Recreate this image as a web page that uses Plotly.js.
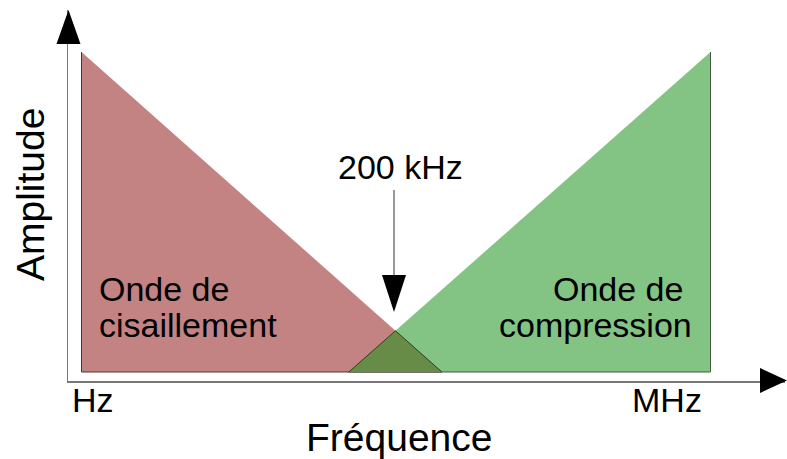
<!DOCTYPE html>
<html>
<head>
<meta charset="utf-8">
<script src="https://cdn.plot.ly/plotly-3.0.1.min.js"></script>
<style>html,body{margin:0;padding:0;background:#fff;}#chart{width:787px;height:459px;}</style>
</head>
<body>
<div id="chart"></div>
<script>
// ---- data (frequency position 0 = Hz, 1 = MHz ; amplitude 0..1) ----
const freqLabels = ['Hz', 'MHz'];
const shearX = [0, 0, 0.573];
const shearY = [1, 0, 0];
const compX = [0.425, 1, 1];
const compY = [0, 0, 1];
const shearLabel = ['Onde de', 'cisaillement'];
const compLabel = ['Onde de', 'compression'];
const crossLabel = '200 kHz';
const xTitle = 'Fréquence';
const yTitle = 'Amplitude';

// overlap region = intersection of the two triangles
function lineY(x, x0, y0, x1, y1) { return y0 + (y1 - y0) * (x - x0) / (x1 - x0); }
// shear hypotenuse: (shearX[0],shearY[0]) -> (shearX[2],shearY[2]); comp hypotenuse: (compX[0],compY[0]) -> (compX[2],compY[2])
const sA = (shearY[2] - shearY[0]) / (shearX[2] - shearX[0]);
const cA = (compY[2] - compY[0]) / (compX[2] - compX[0]);
const xc = (compY[0] - cA * compX[0] - shearY[0] + sA * shearX[0]) / (sA - cA);
const yc = lineY(xc, shearX[0], shearY[0], shearX[2], shearY[2]);
const overlapX = [compX[0], xc, shearX[2]];
const overlapY = [0, yc, 0];

// ---- layout geometry ----
const W = 787, H = 459;
const ML = 68, MR = 2, MT = 10, MB = 78;
const PW = W - ML - MR, PH = H - MT - MB;
const X0 = 81.5, X1 = 710.5, Y0 = 372, Y1 = 52; // pixel of data 0/1
const dx = px => (px - X0) / (X1 - X0);
const dy = py => (Y0 - py) / (Y0 - Y1);
const xp = px => (px - ML) / PW;
const yp = py => (MT + PH - py) / PH;
const P = (x, y) => xp(x).toFixed(5) + ',' + yp(y).toFixed(5);

const font = 'Liberation Sans, Arial, sans-serif';

const traces = [
  {x: compX, y: compY, type: 'scatter', mode: 'lines', fill: 'toself',
   fillcolor: '#83c383', line: {color: '#3f5e3f', width: 1}, hoverinfo: 'skip'},
  {x: shearX, y: shearY, type: 'scatter', mode: 'lines', fill: 'toself',
   fillcolor: '#c48383', line: {color: '#4a3434', width: 1}, hoverinfo: 'skip'},
  {x: overlapX, y: overlapY, type: 'scatter', mode: 'lines', fill: 'toself',
   fillcolor: '#678c47', line: {color: '#2f3f22', width: 1}, hoverinfo: 'skip'}
];

function ann(text, x, y, size, xanchor, extra) {
  return Object.assign({text: text, xref: 'paper', yref: 'paper', x: xp(x), y: yp(y),
    xanchor: xanchor, yanchor: 'middle', showarrow: false,
    font: {family: font, size: size, color: '#000'}}, extra || {});
}

const annotations = [
  ann(yTitle, 30, 195, 39, 'center', {textangle: -90}),
  ann(xTitle, 399, 437, 39, 'center'),
  ann(freqLabels[0], 70, 400, 34, 'left'),
  ann(freqLabels[1], 704, 400, 34, 'right'),
  ann(crossLabel, 400, 167, 34, 'center'),
  ann(shearLabel[0], 97, 289, 34, 'left'),
  ann(shearLabel[1], 97, 325, 34, 'left'),
  ann(compLabel[0], 685, 289, 34, 'right'),
  ann(compLabel[1], 694, 325, 34, 'right')
];

const shapes = [
  // y-axis arrowhead
  {type: 'path', xref: 'paper', yref: 'paper', path: 'M' + P(56.5, 44) + 'L' + P(80.5, 44) + 'L' + P(68.5, 10) + 'Z',
   fillcolor: '#000', line: {width: 0}},
  // x-axis arrowhead
  {type: 'path', xref: 'paper', yref: 'paper', path: 'M' + P(760, 368) + 'L' + P(760, 393) + 'L' + P(787, 380.5) + 'Z',
   fillcolor: '#000', line: {width: 0}},
  // 200 kHz pointer
  {type: 'line', xref: 'paper', yref: 'paper', x0: xp(394), x1: xp(394), y0: yp(190), y1: yp(280),
   line: {color: '#333', width: 1}},
  {type: 'path', xref: 'paper', yref: 'paper', path: 'M' + P(382, 275) + 'L' + P(406, 275) + 'L' + P(394, 312) + 'Z',
   fillcolor: '#000', line: {width: 0}}
];

const axisCommon = {showgrid: false, zeroline: false, showticklabels: false, ticks: '',
  showline: true, linecolor: '#777', linewidth: 1.5, fixedrange: true};

const layout = {
  width: W, height: H,
  margin: {l: ML, r: MR, t: MT, b: MB, pad: 0},
  paper_bgcolor: '#fff', plot_bgcolor: '#fff',
  showlegend: false, hovermode: false,
  xaxis: Object.assign({range: [dx(ML), dx(ML + PW)]}, axisCommon),
  yaxis: Object.assign({range: [dy(MT + PH), dy(MT)]}, axisCommon),
  annotations: annotations,
  shapes: shapes
};

Plotly.newPlot('chart', traces, layout, {staticPlot: true, displayModeBar: false});
</script>
</body>
</html>
